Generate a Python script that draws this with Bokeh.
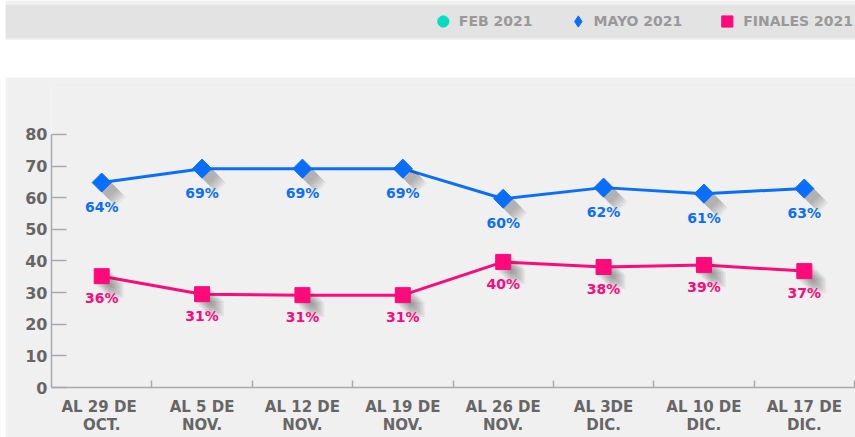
from bokeh.plotting import figure
from bokeh.models import FixedTicker, Legend, LegendItem, Range1d
from bokeh.layouts import column
from bokeh.core.properties import value
from bokeh.embed import file_html
from bokeh.resources import INLINE
import math

categories = ["AL 29  DE\nOCT.", "AL 5 DE\nNOV.", "AL 12 DE\nNOV.", "AL 19 DE\nNOV.",
              "AL 26 DE\nNOV.", "AL 3DE\nDIC.", "AL 10 DE\nDIC.", "AL 17 DE\nDIC."]
mayo_values = [64.8, 69.2, 69.2, 69.2, 59.7, 63.2, 61.3, 62.9]
mayo_labels = ["64%", "69%", "69%", "69%", "60%", "62%", "61%", "63%"]
finales_values = [35.2, 29.5, 29.2, 29.2, 39.7, 38.1, 38.7, 36.8]
finales_labels = ["36%", "31%", "31%", "31%", "40%", "38%", "39%", "37%"]
legend_labels = ["FEB 2021", "MAYO 2021", "FINALES 2021"]
y_ticks = [0, 10, 20, 30, 40, 50, 60, 70, 80]

FONT = "DejaVu Sans"
BLUE = "#0a6efd"
PINK = "#ff0a7a"
TEAL = "#00dcc0"
AXIS = "#aaaaaa"
TXT = "#666666"

# ---------- top legend band ----------
top = figure(width=850, height=40, toolbar_location=None, output_backend="svg",
             x_range=Range1d(0, 1), y_range=Range1d(0, 1),
             x_axis_location=None, y_axis_location=None,
             min_border_left=0, min_border_right=0, min_border_top=4, min_border_bottom=2,
             background_fill_color="#e3e3e3", border_fill_color="#f0f0f0",
             outline_line_color=None, margin=(0, 0, 0, 5))
top.frame_align = False
top.grid.visible = False
# placeholder renderers (outside the visible range) used only for the legend swatches
r_feb = top.scatter(x=[-5], y=[-5], marker="circle", color=TEAL)
r_may = top.scatter(x=[-5], y=[-5], marker="diamond", color=BLUE)
r_fin = top.scatter(x=[-5], y=[-5], marker="square", color=PINK)
leg = Legend(items=[LegendItem(label=legend_labels[0], renderers=[r_feb]),
                    LegendItem(label=legend_labels[1], renderers=[r_may]),
                    LegendItem(label=legend_labels[2], renderers=[r_fin])],
             orientation="horizontal", location="center_right",
             background_fill_alpha=0, border_line_alpha=0, margin=0, padding=2,
             spacing=31, label_standoff=2, glyph_width=28, glyph_height=28,
             label_text_color="#999999", label_text_font=FONT,
             label_text_font_style="bold", label_text_font_size="14px")
top.add_layout(leg)

# ---------- main chart ----------
xs = [i + 0.5 for i in range(len(categories))]
bounds = [i + 1 for i in range(len(categories))]
Y_END = 94.86

p = figure(width=850, height=360, toolbar_location=None, output_backend="svg",
           x_range=Range1d(0, len(categories)), y_range=Range1d(0, Y_END),
           background_fill_color="#f0f0f0", border_fill_color="#f0f0f0",
           outline_line_color=None, min_border_left=46, min_border_right=1,
           min_border_top=10, min_border_bottom=50, margin=(37, 0, 0, 5))
p.frame_align = False
p.grid.visible = False

ya = p.yaxis[0]
ya.ticker = FixedTicker(ticks=y_ticks)
ya.bounds = (0, 80)
ya.major_tick_in = 15
ya.major_tick_out = 0
ya.minor_tick_line_color = None
ya.axis_line_color = AXIS
ya.axis_line_width = 1.5
ya.major_tick_line_color = AXIS
ya.major_tick_line_width = 1.5
ya.major_label_standoff = 4
ya.major_label_text_color = TXT
ya.major_label_text_font = FONT
ya.major_label_text_font_style = "bold"
ya.major_label_text_font_size = "16px"

xa = p.xaxis[0]
xa.ticker = FixedTicker(ticks=xs, minor_ticks=bounds)
xa.major_tick_line_color = None
xa.major_tick_in = 0
xa.major_tick_out = 0
xa.minor_tick_in = 7
xa.minor_tick_out = 0
xa.minor_tick_line_color = AXIS
xa.minor_tick_line_width = 1.5
xa.axis_line_color = AXIS
xa.axis_line_width = 1.5
xa.major_label_overrides = {x: c for x, c in zip(xs, categories)}
xa.major_label_standoff = 10
xa.major_label_text_color = TXT
xa.major_label_text_font = FONT
xa.major_label_text_font_style = "bold"
xa.major_label_text_font_size = "15px"
xa.major_label_text_line_height = 1.0

# pixel scales for shadows
px_x = len(categories) / 803.0
px_y = Y_END / 300.0

def shadow(vals, marker, size, angle):
    for k in range(1, 10):
        off = 1.6 * k
        p.scatter(x=[x + off * px_x for x in xs], y=[v - off * px_y for v in vals],
                  marker=marker, size=size, angle=angle, fill_color="#444444",
                  line_color=None, fill_alpha=0.07)

p.line(xs, mayo_values, line_width=3, color=BLUE)
p.line(xs, finales_values, line_width=3, color=PINK)
shadow(mayo_values, "square", 13.5, math.pi / 4)
shadow(finales_values, "square", 15, 0)
p.scatter(xs, mayo_values, marker="square", size=13.5, angle=math.pi / 4, color=BLUE)
p.scatter(xs, finales_values, marker="square", size=15, color=PINK)

p.text(x=xs, y=mayo_values, text=mayo_labels, text_align="center", text_baseline="middle",
       y_offset=24, text_color=BLUE, text_font=value(FONT), text_font_style="bold",
       text_font_size="14px")
p.text(x=xs, y=finales_values, text=finales_labels, text_align="center", text_baseline="middle",
       y_offset=22, text_color=PINK, text_font=value(FONT), text_font_style="bold",
       text_font_size="14px")

layout = column(top, p, spacing=0)
open("out.html", "w").write(file_html(layout, INLINE))
